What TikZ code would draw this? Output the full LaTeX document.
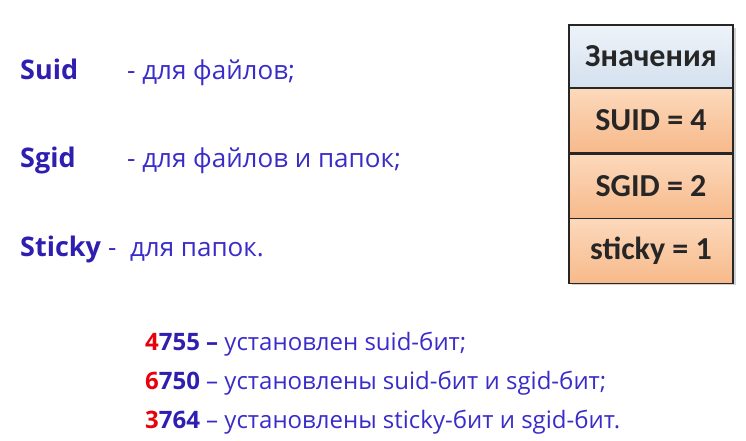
\documentclass[tikz,border=0pt]{standalone}
\usepackage{fontspec}
\setmainfont{Open Sans}
\newfontfamily\tabfont{Carlito}
\usetikzlibrary{shapes,arrows}
\definecolor{txtblue}{HTML}{3A2CC8}
\definecolor{keyblue}{HTML}{2E1FB0}
\definecolor{numred}{HTML}{E8000B}
\definecolor{headtop}{HTML}{EEF3F9}
\definecolor{headbot}{HTML}{D3E0EE}
\definecolor{celltop}{HTML}{FCD9BC}
\definecolor{cellbot}{HTML}{F7B98A}
\tikzset{
  keyword/.style={anchor=base west,inner sep=0pt,text=keyblue,font=\fontsize{27}{32}\selectfont\bfseries},
  meaning/.style={anchor=base west,inner sep=0pt,text=txtblue,font=\fontsize{26}{31}\selectfont},
  example/.style={anchor=base west,text=txtblue,font=\fontsize{24}{29}\selectfont,inner sep=0pt},
  cell/.style={draw=black!85,line width=1.6pt,minimum width=164pt,minimum height=65pt,
    inner sep=0pt,font=\tabfont\fontsize{32}{36}\selectfont\bfseries,text=black!85,
    top color=celltop,bottom color=cellbot},
  headcell/.style={cell,minimum height=63pt,top color=headtop,bottom color=headbot}
}
\begin{document}
\begin{tikzpicture}[x=1pt,y=-1pt]
          \useasboundingbox (0,0) rectangle (746,440);
          \fill[black!18] (572,28) rectangle (736,285);
          \node[headcell] (head) at (651,56.5) {Значения};
          \node[cell] (suid) at (651,120.5) {SUID = 4};
          \node[cell] (sgid) at (651,186.5) {SGID = 2};
          \node[cell] (sticky) at (651,251) {sticky = 1};
          \node[keyword] (k1) at (20,79) {Suid};
          \node[meaning] (m1) at (127,79) {- для файлов;};
          \node[keyword] (k2) at (20,167) {Sgid};
          \node[meaning] (m2) at (127,167) {- для файлов и папок;};
          \node[keyword] (k3) at (20,256) {Sticky};
          \node[meaning] (m3) at (108,256) {-\ \ для папок.};
          \node[example] (e1) at (145,350) {\textbf{\textcolor{numred}{4}\textcolor{keyblue}{755 –}} установлен suid-бит;};
          \node[example] (e2) at (145,389) {\textbf{\textcolor{numred}{6}\textcolor{keyblue}{750}} – установлены suid-бит и sgid-бит;};
          \node[example] (e3) at (145,428) {\textbf{\textcolor{numred}{3}\textcolor{keyblue}{764}} – установлены sticky-бит и sgid-бит.};
        \end{tikzpicture}
\end{document}
